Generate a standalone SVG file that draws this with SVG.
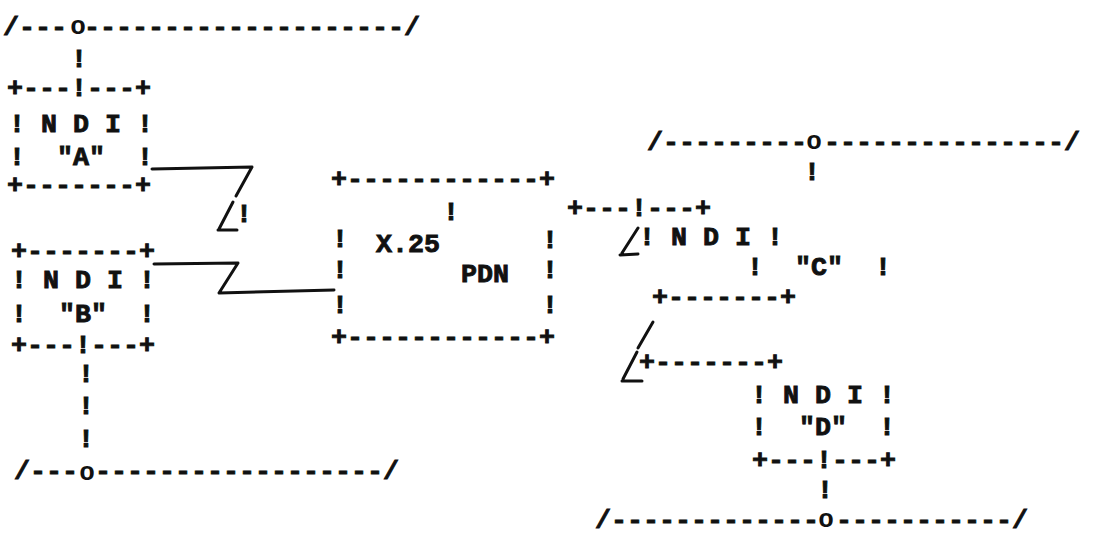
<svg xmlns="http://www.w3.org/2000/svg" width="1098" height="540" viewBox="0 0 1098 540" xml:space="preserve">
  <style>
    .t { font-family: "Liberation Mono", "Courier New", monospace; font-size: 26.67px; font-weight: bold; fill: #111; stroke: #111; stroke-width: 0.9px; white-space: pre; }
    .o { font-family: "Liberation Mono", "Courier New", monospace; font-size: 26px; font-weight: bold; fill: #111; text-anchor: middle; }
    .ln { fill: none; stroke: #111; stroke-width: 3; stroke-linecap: round; stroke-linejoin: round; }
  </style>
  <rect width="1098" height="540" fill="#fff"/>

  <!-- LAN segments: end slashes, dashes and the tap point "o" -->
  <g id="lan-top-left">
    <text class="t" x="3" y="35">/---</text>
    <text class="o" x="78" y="34">o</text>
    <text class="t" x="84" y="35">--------------------/</text>
  </g>
  <g id="lan-bottom-left">
    <text class="t" x="14" y="479">/---</text>
    <text class="o" x="87" y="480">o</text>
    <text class="t" x="95" y="479">------------------/</text>
  </g>
  <g id="lan-top-right">
    <text class="t" x="647" y="150">/---------</text>
    <text class="o" x="814" y="149">o</text>
    <text class="t" x="824" y="150">---------------/</text>
  </g>
  <g id="lan-bottom-right">
    <text class="t" x="595" y="528">/-------------</text>
    <text class="o" x="826" y="527">o</text>
    <text class="t" x="836" y="528">-----------/</text>
  </g>

  <!-- NDI A -->
  <g id="ndi-a">
    <text class="t" x="7" y="96">+---!---+</text>
    <text class="t" x="9" y="132">! N D I !</text>
    <text class="t" x="9" y="165">!  "A"  !</text>
    <text class="t" x="7" y="193">+-------+</text>
  </g>

  <!-- NDI B -->
  <g id="ndi-b">
    <text class="t" x="11" y="259">+-------+</text>
    <text class="t" x="11" y="288">! N D I !</text>
    <text class="t" x="11" y="322">!  "B"  !</text>
    <text class="t" x="11" y="353">+---!---+</text>
  </g>

  <!-- X.25 packet data network -->
  <g id="x25-pdn">
    <text class="t" x="331" y="187">+------------+</text>
    <text class="t" x="443" y="220">!</text>
    <text class="t" x="332" y="247">!</text>
    <text class="t" x="376" y="252">X.25</text>
    <text class="t" x="542" y="248">!</text>
    <text class="t" x="332" y="278">!</text>
    <text class="t" x="461" y="282">PDN</text>
    <text class="t" x="542" y="278">!</text>
    <text class="t" x="332" y="313">!</text>
    <text class="t" x="542" y="313">!</text>
    <text class="t" x="331" y="345">+------------+</text>
  </g>

  <!-- NDI C -->
  <g id="ndi-c">
    <text class="t" x="567" y="216">+---!---+</text>
    <text class="t" x="639" y="245">! N D I !</text>
    <text class="t" x="747" y="275">!  "C"  !</text>
    <text class="t" x="652" y="305">+-------+</text>
  </g>

  <!-- NDI D -->
  <g id="ndi-d">
    <text class="t" x="639" y="370">+-------+</text>
    <text class="t" x="751" y="403">! N D I !</text>
    <text class="t" x="751" y="435">!  "D"  !</text>
    <text class="t" x="752" y="468">+---!---+</text>
  </g>

  <!-- taps and links -->
  <g id="connectors">
    <text class="t" x="71" y="67">!</text>
    <text class="t" x="78" y="382">!</text>
    <text class="t" x="78" y="414">!</text>
    <text class="t" x="78" y="447">!</text>
    <text class="t" x="804" y="180">!</text>
    <text class="t" x="817" y="498">!</text>
    <text class="t" x="236" y="222">!</text>

    <polyline class="ln" points="152,169 252,167 236,196"/>
    <path class="ln" d="M233,202 L219,229 M218,230 L237,230"/>
    <polyline class="ln" points="154,264 238,263 219,293 334,290"/>
    <path class="ln" d="M638,228 L622,253 M620,255 L638,254"/>
    <path class="ln" d="M653,322 L638,348"/>
    <path class="ln" d="M637,352 L623,379 M622,381 L642,381"/>
  </g>
</svg>
